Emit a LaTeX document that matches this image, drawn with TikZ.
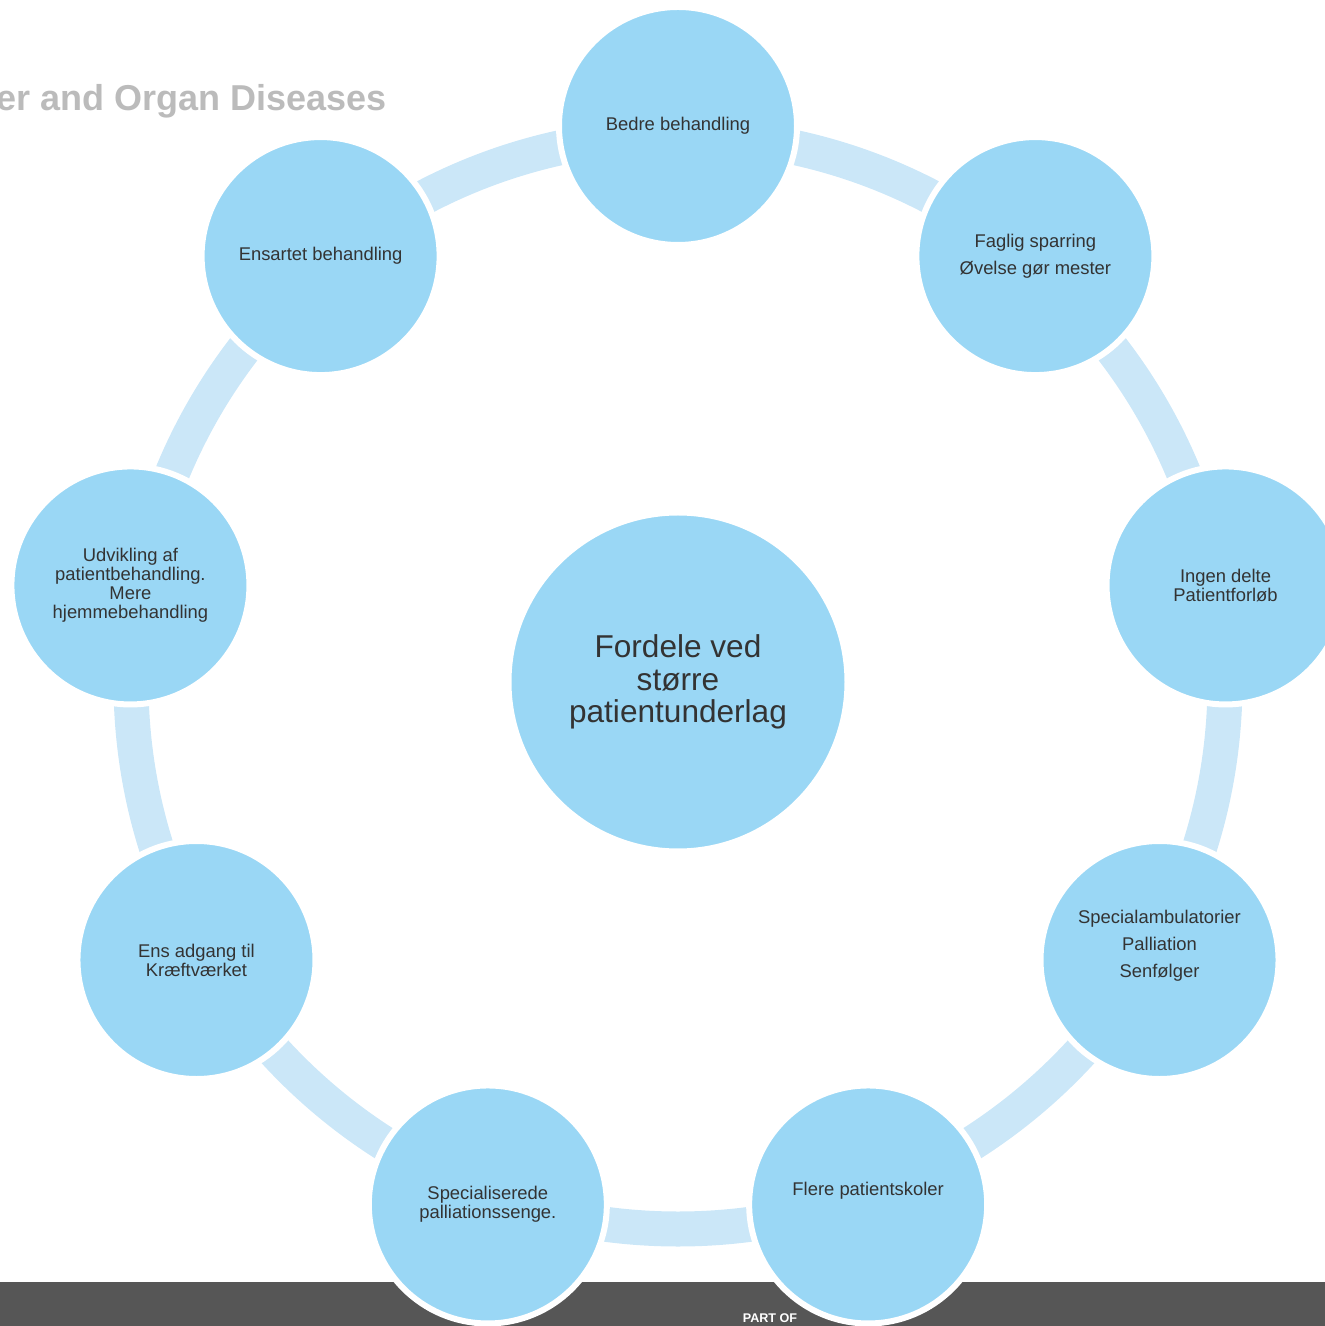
\documentclass[tikz,border=0pt]{standalone}
\usepackage{fontspec}
\setmainfont{Liberation Sans}
\definecolor{bubble}{HTML}{9AD7F5}
\definecolor{ringblue}{HTML}{CBE7F8}
\definecolor{ink}{HTML}{333333}
\definecolor{greytitle}{HTML}{BBBBBB}
\definecolor{barfill}{HTML}{565656}

\tikzstyle{hub} = [align=center, circle, draw=white, line width=2.5pt, fill=bubble, text=ink, minimum size=169pt, inner sep=0pt, font=\fontsize{15.8}{16.3}\selectfont]
\tikzstyle{spoke} = [align=center, circle, draw=white, line width=3pt, fill=bubble, text=ink, minimum size=119pt, inner sep=0pt, font=\fontsize{9.2}{9.5}\selectfont]
\tikzstyle{spoketext} = [align=center, text=ink, inner sep=0pt, font=\fontsize{9.2}{9.5}\selectfont]
\tikzstyle{ring} = [ringblue, line width=17.5pt]

\begin{document}
\begin{tikzpicture}[x=0.5pt,y=0.5pt]
            %
            \useasboundingbox (-678,-644) rectangle (647,682);
            % We start with the dark bar and the light ring behind the circles
            \fill [barfill] (-678,-644) rectangle (647,-600);
            \draw [ring] (0,0) circle (547);
            %
            % Then we place the circles round the ring
            \node [spoke] (bedre) at (90:556) {Bedre behandling};
            \node [spoke] (faglig) at (50:556) {Faglig sparring\\[4pt]Øvelse gør mester};
            \node [spoke] (ingen) at (10:556) {Ingen delte\\Patientforløb};
            \node [spoke, label={[spoketext,yshift=7pt]center:Specialambulatorier\\[4pt]Palliation\\[4pt]Senfølger}] (ambulatorier) at (-30:556) {};
            \node [spoke, label={[spoketext,yshift=7pt]center:Flere patientskoler}] (skoler) at (-70:556) {};
            \node [spoke] (senge) at (-110:556) {Specialiserede\\palliationssenge.};
            \node [spoke] (adgang) at (-150:556) {Ens adgang til\\Kræftværket};
            \node [spoke] (udvikling) at (170:556) {Udvikling af\\patientbehandling.\\Mere\\hjemmebehandling};
            \node [spoke] (ensartet) at (130:556) {Ensartet behandling};
            %
            % The big circle in the middle
            \node [hub] (fordele) at (0,0) {Fordele ved\\større\\patientunderlag};
            %
            % Texts at the top and in the bar
            \node [anchor=base east, inner sep=0pt, text=greytitle, font=\fontsize{18}{20}\selectfont\bfseries] (title) at (-291,571) {er and Organ Diseases};
            \node [anchor=base, inner sep=0pt, text=white, font=\fontsize{6.3}{7}\selectfont\bfseries] (partof) at (92,-640) {PART OF};
            %
        \end{tikzpicture}
\end{document}
